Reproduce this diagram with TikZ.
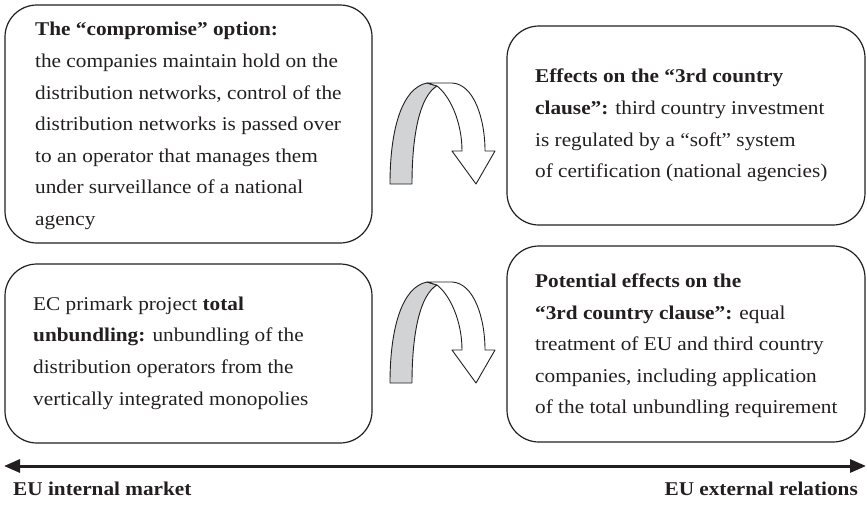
\documentclass[tikz,border=0pt]{standalone}
\usepackage{fontspec}
\setmainfont{Liberation Serif}[FakeStretch=1.09]
\usetikzlibrary{arrows.meta}
\definecolor{ink}{HTML}{231F20}
\definecolor{band}{HTML}{D1D3D4}
\tikzset{
  box/.style={draw=ink, line width=1.2pt, rounded corners=32pt, inner sep=0pt},
  txt/.style={anchor=west, align=left, inner sep=0pt, text=ink,
    font=\fontsize{19.5}{31.6}\selectfont},
  axislabel/.style={inner sep=0pt, text=ink, font=\fontsize{19.5}{22}\selectfont\bfseries},
  ribbon/.style={draw=ink, line width=0.9pt, line join=round},
  uturn/.pic={
    % back face of the curled ribbon
    \path[ribbon, fill=band] (0,0) -- (22,0)
      .. controls (22,-50) and (30,-88) .. (47,-98)
      -- (37,-101)
      .. controls (12,-96) and (0,-55) .. (0,0) -- cycle;
    % front face ending in the arrow head
    \path[ribbon, fill=white] (37,-101) -- (62,-101)
      .. controls (84,-100) and (95,-65) .. (95,-33)
      -- (105,-33) -- (86,0) -- (62,-33) -- (72,-33)
      .. controls (72,-62) and (60,-88) .. (47,-98) -- cycle;
  }
}
\begin{document}
\begin{tikzpicture}[x=1pt, y=-1pt]
\useasboundingbox (0,0) rectangle (867,504);

% frames
\node[box, minimum width=367pt, minimum height=238pt] (b1) at (188.5,124) {};
\node[box, minimum width=358pt, minimum height=199pt] (b2) at (686,125.5) {};
\node[box, minimum width=367pt, minimum height=179pt] (b3) at (188.5,353.5) {};
\node[box, minimum width=358pt, minimum height=196pt] (b4) at (686,344) {};

% texts
\node[txt] (t1) at (35,126) {\textbf{The “compromise” option:}\\
the companies maintain hold on the\\
distribution networks, control of the\\
distribution networks is passed over\\
to an operator that manages them\\
under surveillance of a national\\
agency};
\node[txt] (t2) at (535,125.5) {\textbf{Effects on the “3rd country}\\
\textbf{clause”:} third country investment\\
is regulated by a “soft” system\\
of certification (national agencies)};
\node[txt] (t3) at (33,353) {EC primark project \textbf{total}\\
\textbf{unbundling:} unbundling of the\\
distribution operators from the\\
vertically integrated monopolies};
\node[txt] (t4) at (535,346) {\textbf{Potential effects on the}\\
\textbf{“3rd country clause”:} equal\\
treatment of EU and third country\\
companies, including application\\
of the total unbundling requirement};

% curled arrows between the columns
\pic at (390,184) {uturn};
\pic at (390,383) {uturn};

% axis
\coordinate (aL) at (4,466);
\coordinate (aR) at (866,466);
\draw[ink, line width=3pt, {Triangle[length=16pt,width=13pt]}-{Triangle[length=16pt,width=13pt]}] (aL) -- (aR);
\node[axislabel, anchor=base west] (l1) at (13,495) {EU internal market};
\node[axislabel, anchor=base east] (l2) at (858,495) {EU external relations};
\end{tikzpicture}
\end{document}
